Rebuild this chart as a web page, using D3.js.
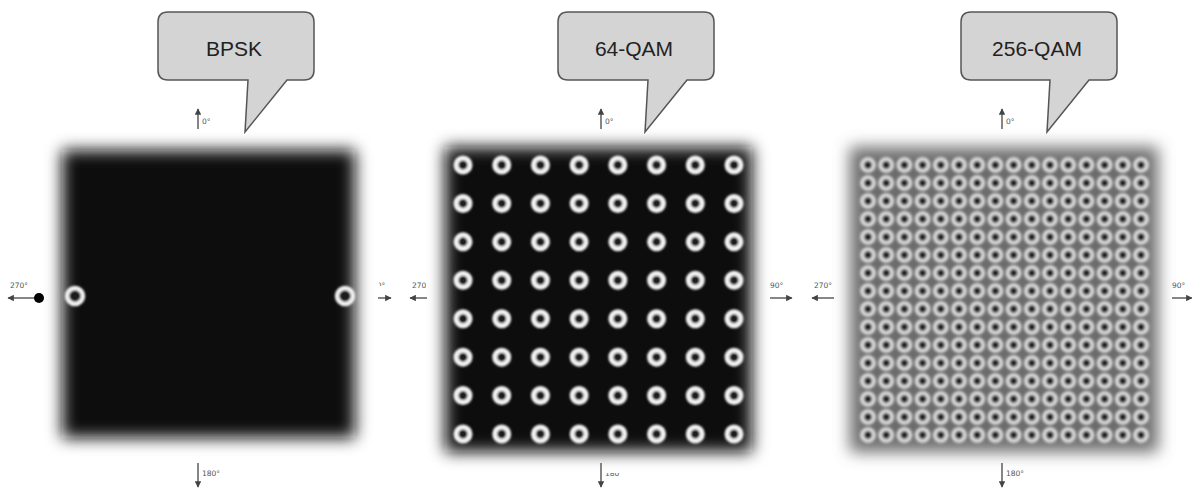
<!DOCTYPE html>
<html>
<head>
<meta charset="utf-8">
<script src="https://cdn.jsdelivr.net/npm/d3@7"></script>
<style>
  body { margin: 0; background: #fff; }
  svg { display: block; }
</style>
</head>
<body>
<div id="chart"></div>
<script>
// constellation data
const titles = ["BPSK", "64-QAM", "256-QAM"];
const bpskPoints = [{i: -1, q: 0}, {i: 1, q: 0}];
const qam64Levels = [-7, -5, -3, -1, 1, 3, 5, 7];
const qam256Levels = [-15, -13, -11, -9, -7, -5, -3, -1, 1, 3, 5, 7, 9, 11, 13, 15];
const phaseLabels = {up: "0°", down: "180°", left: "270°", right: "90°"};

const W = 1192, H = 488;

let svg = d3.select("#chart")
    .append("svg")
    .attr("width", W)
    .attr("height", H);

let defs = svg.append("defs");
defs.append("filter").attr("id", "soft")
    .attr("x", "-20%").attr("y", "-20%").attr("width", "140%").attr("height", "140%")
    .append("feGaussianBlur").attr("stdDeviation", 8);
defs.append("filter").attr("id", "ringblur")
    .attr("x", "-50%").attr("y", "-50%").attr("width", "200%").attr("height", "200%")
    .append("feGaussianBlur").attr("stdDeviation", 1.2);
defs.append("filter").attr("id", "ringblur2")
    .attr("x", "-50%").attr("y", "-50%").attr("width", "200%").attr("height", "200%")
    .append("feGaussianBlur").attr("stdDeviation", 1.6);
defs.append("marker").attr("id", "head")
    .attr("viewBox", "0 0 10 10").attr("refX", 9).attr("refY", 5)
    .attr("markerWidth", 5).attr("markerHeight", 5).attr("orient", "auto")
    .append("path").attr("d", "M0,0 L10,5 L0,10 z").attr("fill", "#444");

// panel layout (boxes, axis arrows)
let panels = [
    {title: titles[0], box: [62, 150, 355, 438], pts: bpskPoints, dom: 1, inset: [13, 10],
     bg: "#111", ring: 8, ringW: 4.5, blur: "ringblur", cx: 198, bubbleX: 158, tip: 243,
     left: [8, 40], right: [378, 391], hy: 298},
    {title: titles[1], box: [445, 147, 752, 452], pts: d3.cross(qam64Levels, qam64Levels, (i, q) => ({i, q})), dom: 7, inset: [18, 18],
     bg: "#111", ring: 7, ringW: 5, blur: "ringblur", cx: 601, bubbleX: 558, tip: 643,
     left: [410, 427], right: [770, 792], hy: 298},
    {title: titles[2], box: [850, 147, 1158, 452], pts: d3.cross(qam256Levels, qam256Levels, (i, q) => ({i, q})), dom: 15, inset: [18, 17],
     bg: "#6c6c6c", ring: 6, ringW: 3.6, blur: "ringblur2", cx: 1002, bubbleX: 961, tip: 1045,
     left: [812, 834], right: [1172, 1192], hy: 298}
];

panels.forEach((p, k) => {
    let g = svg.append("g");
    let [x0, y0, x1, y1] = p.box;

    // speech bubble with title
    let bx = p.bubbleX, bw = 156, by = 12, bh = 68;
    g.append("path")
        .attr("d", "M" + (bx + 10) + "," + by + " H" + (bx + bw - 10) + " Q" + (bx + bw) + "," + by + " " + (bx + bw) + "," + (by + 10) +
            " V" + (by + bh - 10) + " Q" + (bx + bw) + "," + (by + bh) + " " + (bx + bw - 10) + "," + (by + bh) +
            " H" + (p.tip + 44) + " L" + (p.tip + 2) + ",132 L" + (p.tip + 5) + "," + (by + bh) +
            " H" + (bx + 10) + " Q" + bx + "," + (by + bh) + " " + bx + "," + (by + bh - 10) +
            " V" + (by + 10) + " Q" + bx + "," + by + " " + (bx + 10) + "," + by + " Z")
        .attr("fill", "#d4d4d4")
        .attr("stroke", "#555")
        .attr("stroke-width", 1.5);
    g.append("text")
        .attr("x", bx + bw / 2 - 2)
        .attr("y", by + 44)
        .attr("text-anchor", "middle")
        .attr("font-family", "Liberation Sans, Arial, sans-serif")
        .attr("font-size", 21)
        .attr("fill", "#222")
        .text(p.title);

    // constellation scales
    let x = d3.scaleLinear().domain([-p.dom, p.dom]).range([x0 + p.inset[0], x1 - p.inset[1]]);
    let y = d3.scaleLinear().domain([p.dom, -p.dom]).range([y0 + p.inset[0], y1 - p.inset[1]]);
    if (p.dom === 1) y = d3.scaleLinear().domain([1, -1]).range([y0, y1 + 4]);

    g.append("rect")
        .attr("x", x0).attr("y", y0)
        .attr("width", x1 - x0).attr("height", y1 - y0)
        .attr("fill", p.bg)
        .attr("filter", "url(#soft)");

    g.append("g")
        .attr("filter", "url(#" + p.blur + ")")
        .selectAll("circle")
        .data(p.pts)
        .join("circle")
        .attr("cx", d => x(d.i))
        .attr("cy", d => y(d.q))
        .attr("r", p.ring)
        .attr("fill", "#1a1a1a")
        .attr("stroke", k === 2 ? "#e6e6e6" : "#f2f2f2")
        .attr("stroke-width", p.ringW);

    // phase arrows
    let arrows = g.append("g").attr("stroke", "#444").attr("stroke-width", 1.3);
    arrows.append("line").attr("x1", p.cx).attr("x2", p.cx).attr("y1", 129).attr("y2", 109).attr("marker-end", "url(#head)");
    arrows.append("line").attr("x1", p.cx).attr("x2", p.cx).attr("y1", 463).attr("y2", 487).attr("marker-end", "url(#head)");
    arrows.append("line").attr("x1", p.left[1]).attr("x2", p.left[0]).attr("y1", p.hy).attr("y2", p.hy).attr("marker-end", "url(#head)");
    arrows.append("line").attr("x1", p.right[0]).attr("x2", p.right[1]).attr("y1", p.hy).attr("y2", p.hy).attr("marker-end", "url(#head)");

    let lab = g.append("g")
        .attr("font-family", "DejaVu Sans, sans-serif")
        .attr("font-size", 7.5)
        .attr("fill", "#555");
    lab.append("text").attr("x", p.cx + 4).attr("y", 124).text(phaseLabels.up);
    let down = lab.append("text").attr("x", p.cx + 4).attr("y", 476).text(phaseLabels.down);
    let lt = lab.append("text").attr("x", p.left[0] + 2).attr("y", 288).text(phaseLabels.left);
    let rt = lab.append("text").attr("x", p.right[0]).attr("y", 288).text(phaseLabels.right);

    // the source panels are cropped images; some labels are cut off
    if (k === 0) {
        defs.append("clipPath").attr("id", "c0").append("rect").attr("x", 379).attr("y", 270).attr("width", 20).attr("height", 16);
        rt.attr("x", 372).attr("clip-path", "url(#c0)");
        g.append("circle").attr("cx", 39).attr("cy", p.hy).attr("r", 5).attr("fill", "#000");
    }
    if (k === 1) {
        defs.append("clipPath").attr("id", "c1").append("rect").attr("x", 400).attr("y", 270).attr("width", 26).attr("height", 30);
        lt.attr("clip-path", "url(#c1)");
        defs.append("clipPath").attr("id", "c2").append("rect").attr("x", 590).attr("y", 473).attr("width", 40).attr("height", 20);
        down.attr("clip-path", "url(#c2)");
    }
});
</script>
</body>
</html>
